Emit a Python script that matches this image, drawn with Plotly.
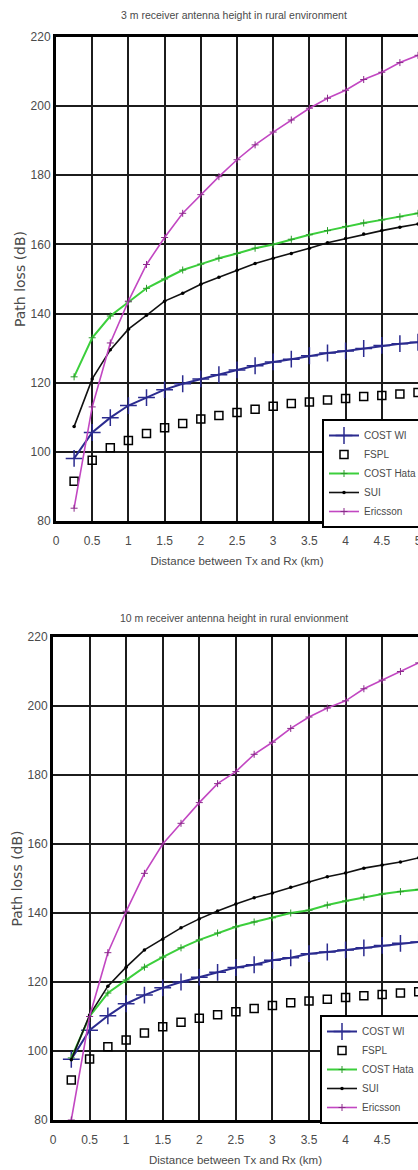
import plotly.graph_objects as go

# ---------------- data ----------------
distance_km = [0.25, 0.5, 0.75, 1.0, 1.25, 1.5, 1.75, 2.0, 2.25, 2.5,
               2.75, 3.0, 3.25, 3.5, 3.75, 4.0, 4.25, 4.5, 4.75, 5.0]

# 3 m receiver antenna height
cost_wi_3m = [98.1, 105.6, 109.9, 113.4, 115.7, 118.0, 119.7, 121.1, 122.3, 123.7,
              124.9, 126.0, 126.8, 127.8, 128.6, 129.2, 129.9, 130.8, 131.3, 131.7]
fspl_3m = [91.5, 97.6, 101.2, 103.3, 105.3, 107.0, 108.2, 109.5, 110.5, 111.4,
           112.3, 113.2, 114.0, 114.4, 115.0, 115.4, 116.0, 116.3, 116.7, 117.2]
cost_hata_3m = [121.7, 133.0, 139.3, 143.4, 147.3, 150.0, 152.6, 154.3, 156.0, 157.4,
                158.9, 160.0, 161.5, 162.8, 164.0, 165.2, 166.2, 167.1, 168.0, 169.0]
sui_3m = [107.3, 121.1, 129.5, 135.5, 139.5, 143.6, 145.9, 148.5, 150.5, 152.5,
          154.5, 156.0, 157.4, 158.9, 160.5, 161.7, 163.0, 164.0, 165.0, 165.9]
ericsson_3m = [83.7, 113.0, 131.5, 143.6, 154.2, 162.0, 169.0, 174.4, 179.6, 184.5,
               188.8, 192.5, 196.0, 199.4, 202.3, 204.6, 207.7, 209.8, 212.6, 214.7]

# 10 m receiver antenna height
cost_wi_10m = [97.6, 106.0, 110.2, 113.7, 116.2, 118.3, 120.0, 121.4, 122.8, 124.2,
               125.0, 126.3, 127.0, 128.2, 128.7, 129.3, 129.9, 130.6, 131.2, 131.6]
fspl_10m = [91.6, 97.7, 101.2, 103.2, 105.2, 107.0, 108.3, 109.5, 110.5, 111.4,
            112.3, 113.2, 114.0, 114.5, 115.0, 115.5, 116.0, 116.4, 116.8, 117.2]
cost_hata_10m = [98.0, 110.0, 116.8, 120.6, 124.3, 127.2, 129.9, 132.2, 134.2, 136.0,
                 137.4, 138.6, 140.0, 140.8, 142.3, 143.5, 144.6, 145.5, 146.2, 146.8]
sui_10m = [97.5, 110.4, 118.8, 124.3, 129.3, 132.4, 135.7, 138.3, 140.6, 142.6,
           144.4, 145.8, 147.5, 149.0, 150.5, 151.6, 153.0, 153.9, 154.8, 156.0]
ericsson_10m = [80.0, 110.0, 128.5, 140.5, 151.5, 160.0, 166.0, 172.0, 177.5, 181.0,
                186.0, 189.5, 193.5, 196.8, 199.4, 201.5, 205.0, 207.5, 210.0, 212.5]

series_names = ["COST WI", "FSPL", "COST Hata", "SUI", "Ericsson"]
x_tick_vals = [0, 0.5, 1, 1.5, 2, 2.5, 3, 3.5, 4, 4.5, 5]
x_tick_text = ["0", "0.5", "1", "1.5", "2", "2.5", "3", "3.5", "4", "4.5", "5"]
y_tick_vals = [80, 100, 120, 140, 160, 180, 200, 220]
titles = ["3 m receiver antenna height in rural environment",
          "10 m receiver antenna height in rural envionment"]
x_title = "Distance between Tx and Rx (km)"
y_title = "Path loss (dB)"

# ---------------- styling ----------------
W, H = 418, 1170
FONT = "Liberation Sans, Arial, sans-serif"
TXT = "#4a4a4a"
styles = {
    "COST WI": dict(mode="lines+markers", line=dict(color="#2b2b8f", width=2),
                    marker=dict(symbol="cross-thin", size=12, line=dict(color="#2b2b8f", width=1.5))),
    "FSPL": dict(mode="markers",
                 marker=dict(symbol="square-open", size=8, color="black", line=dict(color="black", width=1.5))),
    "COST Hata": dict(mode="lines+markers", line=dict(color="#3ccf3c", width=2),
                      marker=dict(symbol="cross-thin", size=5, line=dict(color="#2a9a2a", width=1))),
    "SUI": dict(mode="lines+markers", line=dict(color="#111111", width=1.6),
                marker=dict(symbol="circle", size=3.5, color="black")),
    "Ericsson": dict(mode="lines+markers", line=dict(color="#c247c2", width=1.6),
                     marker=dict(symbol="cross-thin", size=5, line=dict(color="#8a2a8a", width=1))),
}

panels = [
    dict(data=[cost_wi_3m, fspl_3m, cost_hata_3m, sui_3m, ericsson_3m],
         xref="x", yref="y", legend="legend",
         left=56, top=37, bottom=521, xmax=5.0, title_y=15, leg_left=322, leg_top=419),
    dict(data=[cost_wi_10m, fspl_10m, cost_hata_10m, sui_10m, ericsson_10m],
         xref="x2", yref="y2", legend="legend2",
         left=53, top=637, bottom=1120, xmax=4.99, title_y=618, leg_left=320, leg_top=1015),
]

fig = go.Figure()
for p in panels:
    for name, vals in zip(series_names, p["data"]):
        fig.add_trace(go.Scatter(x=distance_km, y=vals, name=name,
                                 xaxis=p["xref"], yaxis=p["yref"],
                                 legend=p["legend"], **styles[name]))

def ax_common():
    return dict(showgrid=True, gridcolor="#1c1c1c", gridwidth=2,
                showline=True, linecolor="black", linewidth=3, mirror=True,
                zeroline=False, ticks="", automargin=False, ticklabeloverflow="allow",
                tickfont=dict(family=FONT, size=12, color=TXT))

layout = dict(width=W, height=H, margin=dict(l=0, r=0, t=0, b=0, autoexpand=False),
              plot_bgcolor="white", paper_bgcolor="white", showlegend=True)

annotations = []
for i, p in enumerate(panels):
    sx = "" if i == 0 else "2"
    xd = [p["left"] / W, 1.0]
    yd = [1 - p["bottom"] / H, 1 - p["top"] / H]
    layout["xaxis" + sx] = dict(ax_common(), domain=xd, range=[0, p["xmax"]],
                                tickvals=x_tick_vals, ticktext=x_tick_text,
                                ticklabelstandoff=7, anchor="y" + sx,
                                title=dict(text=x_title, standoff=10,
                                           font=dict(family=FONT, size=11.5, color=TXT)))
    layout["yaxis" + sx] = dict(ax_common(), domain=yd, range=[80, 220],
                                tickvals=y_tick_vals, anchor="x" + sx,
                                title=dict(text=y_title, standoff=2,
                                           font=dict(family="DejaVu Sans", size=14, color=TXT)))
    layout["legend" + sx] = dict(x=p["leg_left"] / W, y=1 - p["leg_top"] / H,
                                 xanchor="left", yanchor="top",
                                 bgcolor="white", bordercolor="black", borderwidth=2,
                                 font=dict(family=FONT, size=10, color=TXT),
                                 tracegroupgap=0)
    annotations.append(dict(text=titles[i], x=0.56, y=1 - p["title_y"] / H,
                            xref="paper", yref="paper", showarrow=False,
                            xanchor="center", yanchor="middle",
                            font=dict(family=FONT, size=10.5, color=TXT)))
layout["annotations"] = annotations
fig.update_layout(**layout)
fig.write_html("out.html", config={"displayModeBar": False},
               post_script="document.body.style.margin='0';document.body.style.overflow='hidden';")
